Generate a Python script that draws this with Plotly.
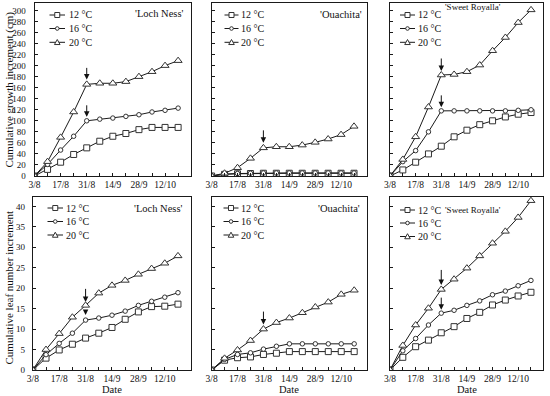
import plotly.graph_objects as go

# ---------------- data ----------------
DATES = ["2018-08-03", "2018-08-10", "2018-08-17", "2018-08-24", "2018-08-31", "2018-09-07",
         "2018-09-14", "2018-09-21", "2018-09-28", "2018-10-05", "2018-10-12", "2018-10-19"]
TEMPS = ["12 °C", "16 °C", "20 °C"]
CULTIVARS = ["'Loch Ness'", "'Ouachita'", "'Sweet Royalla'"]
ARROW_DATE = "2018-08-31"

# Cumulative growth increment (cm)
GROWTH_LOCH_NESS_12 = [0, 12, 25, 39, 51, 63, 72, 77, 84, 88, 88, 88]
GROWTH_LOCH_NESS_16 = [0, 21, 47, 72, 100, 103, 105, 108, 111, 116, 119, 123]
GROWTH_LOCH_NESS_20 = [0, 26, 70, 116, 166, 168, 168, 171, 180, 189, 200, 209]
GROWTH_OUACHITA_12 = [0, 3, 4, 4.5, 5, 5, 5, 5, 5, 5, 5, 5]
GROWTH_OUACHITA_16 = [0, 3.5, 4.5, 5, 5.5, 5.5, 5.5, 5.5, 5.5, 5.5, 5.5, 5.5]
GROWTH_OUACHITA_20 = [0, 5, 15, 32, 51, 53, 53, 56, 61, 67, 75, 90]
GROWTH_SWEET_ROYALLA_12 = [0, 11, 25, 40, 54, 71, 83, 93, 100, 107, 112, 115]
GROWTH_SWEET_ROYALLA_16 = [0, 26, 46, 80, 118, 118, 118, 118, 118, 118, 119, 120]
GROWTH_SWEET_ROYALLA_20 = [0, 30, 71, 125, 183, 184, 189, 201, 227, 251, 278, 301]

# Cumulative leaf number increment
LEAF_LOCH_NESS_12 = [0, 2.9, 4.9, 6.3, 7.8, 9.0, 10.4, 12.4, 14.2, 15.5, 15.6, 16.1]
LEAF_LOCH_NESS_16 = [0, 3.75, 6.5, 9.0, 12.2, 12.7, 13.4, 14.4, 15.8, 16.8, 17.8, 18.9]
LEAF_LOCH_NESS_20 = [0, 5.0, 8.9, 12.9, 15.8, 18.8, 20.7, 21.9, 23.4, 24.8, 26.1, 27.9]
LEAF_OUACHITA_12 = [0, 2.4, 3.0, 3.2, 3.8, 4.1, 4.5, 4.5, 4.5, 4.5, 4.5, 4.5]
LEAF_OUACHITA_16 = [0, 2.6, 3.8, 4.2, 5.1, 5.8, 6.4, 6.4, 6.4, 6.4, 6.4, 6.4]
LEAF_OUACHITA_20 = [0, 2.85, 4.9, 7.2, 10.0, 11.6, 12.7, 14.0, 15.4, 16.6, 18.5, 19.5]
LEAF_SWEET_ROYALLA_12 = [0, 3.1, 5.7, 7.3, 9.1, 10.6, 12.6, 14.1, 15.9, 17.1, 18.1, 19.0]
LEAF_SWEET_ROYALLA_16 = [0, 4.7, 7.7, 11.0, 13.9, 14.6, 15.8, 16.9, 18.4, 19.3, 20.6, 21.9]
LEAF_SWEET_ROYALLA_20 = [0, 6.0, 11.0, 15.1, 19.7, 22.2, 24.9, 27.9, 31.0, 33.9, 37.3, 41.4]

X_TICK_LABEL_FORMAT = "%-d/%-m"
GROWTH_TICK_STEP = 20
LEAF_TICK_STEP = 5

# ---------------- layout helpers ----------------
W, H = 550, 396
FONT = "Times New Roman, Liberation Serif, serif"
INK = "#1a1a1a"


def fx(x):
    return x / W


def fy(y):
    return 1 - y / H


# panel boxes in pixels: (x0, x1, y0_top, y1_bottom)
BOXES = [
    (34.5, 190.7, 2.7, 176.0), (211.6, 366.5, 2.7, 176.0), (390.0, 543.4, 2.7, 176.0),
    (32.8, 190.7, 197.0, 370.0), (211.6, 366.7, 197.0, 370.0), (390.0, 543.3, 197.0, 370.0),
]

PANELS = [
    dict(series=[GROWTH_LOCH_NESS_12, GROWTH_LOCH_NESS_16, GROWTH_LOCH_NESS_20], arrows=[(2, 18, 5), (1, 17, 4)],
         yr=[0, 314], dt=GROWTH_TICK_STEP, title=CULTIVARS[0], tsize=10.5, tpos=(186, 13),
         lg=(49.5, 65, 66.5, [15, 28.5, 42.3]), standoff=6),
    dict(series=[GROWTH_OUACHITA_12, GROWTH_OUACHITA_16, GROWTH_OUACHITA_20], arrows=[(2, 19, 5)],
         yr=[0, 314], dt=GROWTH_TICK_STEP, title=CULTIVARS[1], tsize=10.5, tpos=(364, 14),
         lg=(224.5, 238.5, 239.5, [15, 28.5, 42.3]), standoff=6),
    dict(series=[GROWTH_SWEET_ROYALLA_12, GROWTH_SWEET_ROYALLA_16, GROWTH_SWEET_ROYALLA_20], arrows=[(2, 18, 4), (1, 17, 3.5)],
         yr=[0, 314], dt=GROWTH_TICK_STEP, title=CULTIVARS[2], tsize=9, tpos=(503, 7.5),
         lg=(400, 415, 416, [15, 28.5, 42.3]), standoff=6),
    dict(series=[LEAF_LOCH_NESS_12, LEAF_LOCH_NESS_16, LEAF_LOCH_NESS_20], arrows=[(2, 18, 3.5), (1, 11, 5)],
         yr=[0, 42.3], dt=LEAF_TICK_STEP, title=CULTIVARS[0], tsize=10.5, tpos=(184.5, 208),
         lg=(47.5, 63, 64, [208, 221.5, 235]), standoff=5),
    dict(series=[LEAF_OUACHITA_12, LEAF_OUACHITA_16, LEAF_OUACHITA_20], arrows=[(2, 19, 4.5)],
         yr=[0, 42.3], dt=LEAF_TICK_STEP, title=CULTIVARS[1], tsize=10.5, tpos=(362, 208),
         lg=(223.5, 238.5, 239.5, [208, 221.5, 235]), standoff=5),
    dict(series=[LEAF_SWEET_ROYALLA_12, LEAF_SWEET_ROYALLA_16, LEAF_SWEET_ROYALLA_20], arrows=[(2, 21, 4.5), (1, 17, 3.5)],
         yr=[0, 42.3], dt=LEAF_TICK_STEP, title=CULTIVARS[2], tsize=9, tpos=(503, 210),
         lg=(400, 415, 416, [210, 223, 236.5]), standoff=5),
]

SYMBOLS = ["square", "circle", "triangle-up"]
SIZES = [6, 4.5, 7]

fig = go.Figure()
annotations = []
shapes = []

for i, (p, box) in enumerate(zip(PANELS, BOXES)):
    n = i + 1
    xa = "x" if n == 1 else f"x{n}"
    ya = "y" if n == 1 else f"y{n}"
    for k, vals in enumerate(p["series"]):
        fig.add_trace(go.Scatter(
            x=DATES, y=vals, xaxis=xa, yaxis=ya, mode="lines+markers", name=TEMPS[k],
            showlegend=False, hoverinfo="skip",
            line=dict(color=INK, width=1),
            marker=dict(symbol=SYMBOLS[k], size=SIZES[k], color="white", line=dict(color="#333", width=1)),
        ))
    x0, x1, y0, y1 = box
    left_col = i in (0, 3)
    xkey = "xaxis" if n == 1 else f"xaxis{n}"
    ykey = "yaxis" if n == 1 else f"yaxis{n}"
    fig.layout[xkey] = dict(
        domain=[fx(x0), fx(x1)], anchor=ya, type="date", automargin=False,
        range=["2018-08-03", "2018-10-25 18:00"],
        tick0="2018-08-03", dtick=14 * 86400000, tickformat=X_TICK_LABEL_FORMAT,
        ticks="inside", ticklen=3, tickcolor=INK,
        minor=dict(dtick=7 * 86400000, tick0="2018-08-03", ticks="inside", ticklen=3, tickcolor=INK),
        showline=True, mirror=True, linecolor=INK, linewidth=1,
        showgrid=False, zeroline=False,
        tickfont=dict(family=FONT, size=9.5, color="#111"),
    )
    fig.layout[ykey] = dict(
        domain=[fy(y1), fy(y0)], anchor=xa, range=p["yr"], tick0=0, dtick=p["dt"], automargin=False,
        ticks="inside", ticklen=3, tickcolor=INK, showticklabels=left_col,
        ticklabelstandoff=p["standoff"],
        showline=True, mirror=True, linecolor=INK, linewidth=1,
        showgrid=False, zeroline=False,
        tickfont=dict(family=FONT, size=9, color="#111"),
    )
    # arrows
    for (k, tail, stand) in p["arrows"]:
        yv = p["series"][k][DATES.index(ARROW_DATE)]
        annotations.append(dict(
            x=ARROW_DATE, y=yv, xref=xa, yref=ya, text="", showarrow=True,
            ax=0, ay=-tail, standoff=stand, arrowhead=2, arrowsize=1.1, arrowwidth=1, arrowcolor="#111",
        ))
    # cultivar label
    tx, ty = p["tpos"]
    annotations.append(dict(
        x=fx(tx), y=fy(ty), xref="paper", yref="paper", text=p["title"], showarrow=False,
        xanchor="right", yanchor="middle", font=dict(family=FONT, size=p["tsize"], color="#111"),
    ))
    # legend (drawn manually so the sample line is short like the original)
    lx0, lx1, ltx, rows = p["lg"]
    cx = (lx0 + lx1) / 2
    for k, ry in enumerate(rows):
        shapes.append(dict(type="line", xref="paper", yref="paper", x0=fx(lx0), x1=fx(lx1),
                           y0=fy(ry), y1=fy(ry), line=dict(color=INK, width=1)))
        if k == 0:
            r = 2.5
            shapes.append(dict(type="rect", xref="paper", yref="paper", x0=fx(cx - r), x1=fx(cx + r),
                               y0=fy(ry + r), y1=fy(ry - r), line=dict(color="#333", width=1), fillcolor="white"))
        elif k == 1:
            r = 1.8
            shapes.append(dict(type="circle", xref="paper", yref="paper", x0=fx(cx - r), x1=fx(cx + r),
                               y0=fy(ry + r), y1=fy(ry - r), line=dict(color="#333", width=1), fillcolor="white"))
        else:
            r = 2.8
            path = (f"M {fx(cx - r)} {fy(ry + r * 0.8)} L {fx(cx + r)} {fy(ry + r * 0.8)} "
                    f"L {fx(cx)} {fy(ry - r)} Z")
            shapes.append(dict(type="path", xref="paper", yref="paper", path=path,
                               line=dict(color="#333", width=1), fillcolor="white"))
        annotations.append(dict(
            x=fx(ltx), y=fy(ry), xref="paper", yref="paper", text=TEMPS[k], showarrow=False,
            xanchor="left", yanchor="middle", font=dict(family=FONT, size=10, color="#111"),
        ))

# axis titles
annotations.append(dict(x=fx(9), y=fy(89.5), xref="paper", yref="paper", text="Cumulative growth increment (cm)",
                        textangle=-90, showarrow=False, xanchor="center", yanchor="middle",
                        font=dict(family=FONT, size=11, color="#111")))
annotations.append(dict(x=fx(8.5), y=fy(288), xref="paper", yref="paper", text="Cumulative leaf number increment",
                        textangle=-90, showarrow=False, xanchor="center", yanchor="middle",
                        font=dict(family=FONT, size=11, color="#111")))
for (x0, x1, _, _) in BOXES[3:]:
    annotations.append(dict(x=fx((x0 + x1) / 2), y=fy(389), xref="paper", yref="paper", text="Date",
                            showarrow=False, xanchor="center", yanchor="middle",
                            font=dict(family=FONT, size=10.5, color="#111")))

fig.update_layout(
    template="none",
    width=W, height=H, margin=dict(l=0, r=0, t=0, b=0, autoexpand=False),
    paper_bgcolor="white", plot_bgcolor="white",
    annotations=annotations, shapes=shapes, showlegend=False, hovermode=False,
    font=dict(family=FONT, color="#111"),
)

fig.write_html(
    "out.html",
    config={"displayModeBar": False, "staticPlot": True},
    post_script="document.body.style.margin='0px';document.body.style.padding='0px';"
                "document.body.style.overflow='hidden';",
)
